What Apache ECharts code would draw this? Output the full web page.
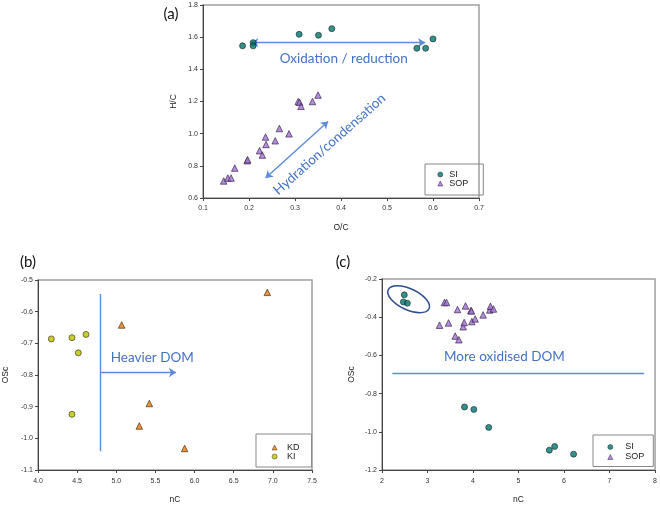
<!DOCTYPE html>
<html><head><meta charset="utf-8">
<script src="https://cdn.jsdelivr.net/npm/echarts@6/dist/echarts.min.js"></script>
<style>html,body{margin:0;padding:0;background:#fff}#c{width:660px;height:505px}</style>
</head><body><div id="c"></div>
<script>
// Panel (a): H/C vs O/C
const A_SI_OC  = [0.186, 0.209, 0.209, 0.309, 0.351, 0.380, 0.565, 0.584, 0.600];
const A_SI_HC  = [1.546, 1.566, 1.546, 1.618, 1.612, 1.653, 1.531, 1.531, 1.589];
const A_SOP_OC = [0.145, 0.154, 0.161, 0.169, 0.196, 0.197, 0.223, 0.229, 0.236, 0.237, 0.257, 0.266, 0.287, 0.307, 0.310, 0.313, 0.338, 0.350];
const A_SOP_HC = [0.706, 0.724, 0.724, 0.786, 0.832, 0.838, 0.894, 0.867, 0.979, 0.933, 0.956, 1.032, 0.999, 1.200, 1.195, 1.170, 1.200, 1.240];
// Panel (b): OSc vs nC
const B_KD_NC  = [6.929, 5.069, 5.422, 5.294, 5.873];
const B_KD_OSC = [-0.539, -0.642, -0.890, -0.961, -1.032];
const B_KI_NC  = [4.17, 4.434, 4.613, 4.515, 4.434];
const B_KI_OSC = [-0.686, -0.682, -0.672, -0.730, -0.924];
// Panel (c): OSc vs nC
const C_SI_NC   = [2.49, 2.47, 2.556, 3.813, 4.018, 4.346, 5.677, 5.794, 6.21];
const C_SI_OSC  = [-0.283, -0.320, -0.327, -0.870, -0.883, -0.977, -1.096, -1.077, -1.117];
const C_SOP_NC  = [3.265, 3.374, 3.418, 3.462, 3.608, 3.689, 3.66, 3.784, 3.806, 3.835, 3.952, 3.966, 3.974, 4.047, 4.222, 4.368, 4.383, 4.449];
const C_SOP_OSC = [-0.442, -0.323, -0.323, -0.430, -0.499, -0.518, -0.360, -0.450, -0.428, -0.341, -0.365, -0.367, -0.423, -0.409, -0.388, -0.362, -0.343, -0.357];
// Annotation geometry (data units)
const A_ARROW_H = [[0.205, 1.566], [0.583, 1.566]];
const A_ARROW_D = [[0.236, 0.724], [0.372, 1.076]];
const B_VLINE   = [[4.80, -0.544], [4.80, -1.041]];
const B_ARROW   = [[4.80, -0.792], [5.763, -0.792]];
const C_HLINE   = [[2.227, -0.692], [7.76, -0.692]];
// Tick settings
const A_X = {min: 0.1, max: 0.7, interval: 0.1};
const A_Y = {min: 0.6, max: 1.8, interval: 0.2};
const B_X = {min: 4.0, max: 7.5, interval: 0.5};
const B_Y = {min: -1.1, max: -0.5, interval: 0.1};
const C_X = {min: 2, max: 8, interval: 1};
const C_Y = {min: -1.2, max: -0.2, interval: 0.2};

const zip = (a, b) => a.map((v, i) => [v, b[i]]);
const FONT = 'Liberation Sans';
const ANN = '#4472C4';
const LINEC = '#5b8bdb';

const COL = {
  SI:  {color: '#00746d', borderColor: '#1a2a2a', borderWidth: 0.8},
  SOP: {color: '#a26fd6', borderColor: '#2a1a3a', borderWidth: 0.8},
  KD:  {color: '#e8790c', borderColor: '#3a2000', borderWidth: 0.8},
  KI:  {color: '#bdbf00', borderColor: '#333300', borderWidth: 0.8}
};

function xAx(gi, s, dec, margin, name) {
  return {
    gridIndex: gi, type: 'value', min: s.min, max: s.max, interval: s.interval,
    name: name, nameLocation: 'middle', nameGap: 25,
    nameTextStyle: {fontFamily: FONT, fontSize: 8.5, color: '#222'},
    axisLine: {show: true, onZero: false, lineStyle: {color: '#444', width: 1}},
    axisTick: {show: true, inside: false, length: 3, lineStyle: {color: '#444'}},
    axisLabel: {fontFamily: FONT, fontSize: 7, color: '#333', margin: margin,
      formatter: v => Number(v).toFixed(dec)},
    splitLine: {show: false}
  };
}
function yAx(gi, s, dec, gap, name) {
  return {
    gridIndex: gi, type: 'value', min: s.min, max: s.max, interval: s.interval,
    name: name, nameLocation: 'middle', nameGap: gap,
    nameTextStyle: {fontFamily: FONT, fontSize: 8.5, color: '#222'},
    axisLine: {show: true, onZero: false, lineStyle: {color: '#444', width: 1}},
    axisTick: {show: true, inside: false, length: 3, lineStyle: {color: '#444'}},
    axisLabel: {fontFamily: FONT, fontSize: 7, color: '#333', margin: 5,
      formatter: v => Number(v).toFixed(dec)},
    splitLine: {show: false}
  };
}
function sc(name, gi, data, symbol) {
  return {
    name: name, type: 'scatter', xAxisIndex: gi, yAxisIndex: gi,
    data: data, symbol: symbol, symbolSize: symbol === 'triangle' ? 6.5 : 6,
    itemStyle: COL[name], silent: true, z: 5
  };
}
function ln(gi, coords, sym) {
  return {
    type: 'lines', coordinateSystem: 'cartesian2d', xAxisIndex: gi, yAxisIndex: gi,
    symbol: sym, symbolSize: 7, silent: true, z: 3,
    lineStyle: {color: LINEC, width: 1.4, opacity: 1, curveness: 0},
    data: [{coords: coords}]
  };
}
function lg(left, top, names, padding, gap, textPad) {
  return {
    orient: 'vertical', left: left, top: top, data: names,
    itemWidth: 5, itemHeight: 5, itemGap: gap, padding: padding,
    borderColor: '#888', borderWidth: 1, borderRadius: 0,
    selectedMode: false,
    itemStyle: {borderWidth: 0.6},
    textStyle: {fontFamily: FONT, fontSize: 9, color: '#222', padding: [0, 0, 0, textPad]}
  };
}

const chart = echarts.init(document.getElementById('c'), null, {renderer: 'canvas'});
chart.setOption({
  animation: false,
  backgroundColor: '#fff',
  grid: [
    {left: 203, top: 5, width: 276, height: 193, show: true, borderColor: '#a0a0a0', borderWidth: 1.5},
    {left: 38, top: 280, width: 274, height: 191, show: true, borderColor: '#a0a0a0', borderWidth: 1.5},
    {left: 382, top: 279, width: 274, height: 192, show: true, borderColor: '#a0a0a0', borderWidth: 1.5}
  ],
  xAxis: [xAx(0, A_X, 1, 7, 'O/C'), xAx(1, B_X, 1, 8, 'nC'), xAx(2, C_X, 0, 8, 'nC')],
  yAxis: [yAx(0, A_Y, 1, 25, 'H/C'), yAx(1, B_Y, 1, 28, 'OSc'), yAx(2, C_Y, 1, 26, 'OSc')],
  legend: [
    lg(425, 164, ['SI', 'SOP'], [6, 15, 7, 12.5], 0, 1.5),
    lg(256, 434, ['KD', 'KI'], [9, 12, 6, 15.8], 0, 5),
    lg(593, 435, ['SI', 'SOP'], [7.5, 9, 5, 14.5], 1, 7.5)
  ],
  series: [
    sc('SI', 0, zip(A_SI_OC, A_SI_HC), 'circle'),
    sc('SOP', 0, zip(A_SOP_OC, A_SOP_HC), 'triangle'),
    sc('KD', 1, zip(B_KD_NC, B_KD_OSC), 'triangle'),
    sc('KI', 1, zip(B_KI_NC, B_KI_OSC), 'circle'),
    sc('SI', 2, zip(C_SI_NC, C_SI_OSC), 'circle'),
    sc('SOP', 2, zip(C_SOP_NC, C_SOP_OSC), 'triangle'),
    ln(0, A_ARROW_H, ['arrow', 'arrow']),
    ln(0, A_ARROW_D, ['arrow', 'arrow']),
    ln(1, B_VLINE, ['none', 'none']),
    ln(1, B_ARROW, ['none', 'arrow']),
    ln(2, C_HLINE, ['none', 'none'])
  ]
});

const p = (gi, pt) => chart.convertToPixel({gridIndex: gi}, pt);
const pa = p(0, [0.406, 1.465]);
const pd = p(0, [0.375, 0.935]);
const pb = p(1, [5.46, -0.746]);
const pc = p(2, [4.69, -0.608]);
const pe = p(2, [2.585, -0.306]);
const annFont = {fontFamily: 'Lato', fontSize: 13.5, fill: ANN, align: 'center', verticalAlign: 'middle'};
const panelFont = {fontFamily: 'Lato', fontSize: 15, fill: '#111', align: 'center', verticalAlign: 'middle'};
chart.setOption({
  graphic: [
    {type: 'text', x: pa[0], y: pa[1], style: Object.assign({text: 'Oxidation / reduction'}, annFont), silent: true},
    {type: 'text', x: pd[0], y: pd[1], rotation: 41.6 * Math.PI / 180, style: Object.assign({text: 'Hydration/condensation'}, annFont), silent: true},
    {type: 'text', x: pb[0], y: pb[1], style: Object.assign({text: 'Heavier DOM'}, annFont), silent: true},
    {type: 'text', x: pc[0], y: pc[1], style: Object.assign({text: 'More oxidised DOM'}, annFont), silent: true},
    {type: 'ellipse', x: pe[0], y: pe[1], rotation: -25 * Math.PI / 180,
      shape: {cx: 0, cy: 0, rx: 22.5, ry: 10.5},
      style: {fill: 'none', stroke: '#2e4f8f', lineWidth: 1.5}, silent: true},
    {type: 'text', x: 171, y: 14, style: Object.assign({text: '(a)'}, panelFont), silent: true},
    {type: 'text', x: 28, y: 262, style: Object.assign({text: '(b)'}, panelFont), silent: true},
    {type: 'text', x: 343, y: 262, style: Object.assign({text: '(c)'}, panelFont), silent: true}
  ]
});
</script>
</body></html>
